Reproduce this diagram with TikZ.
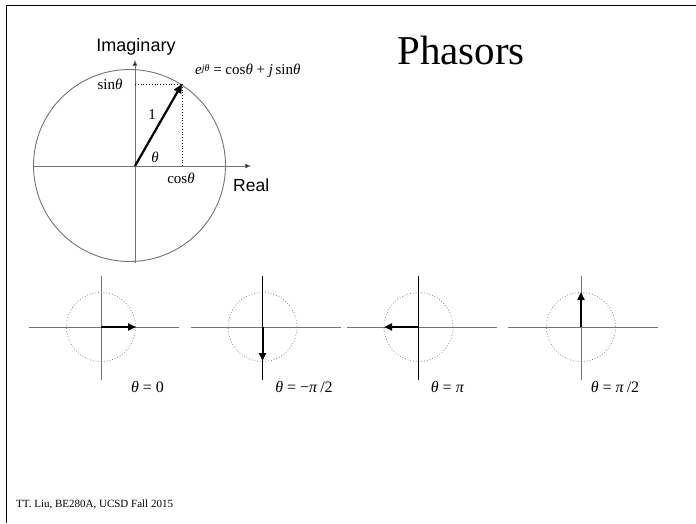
\documentclass[tikz,border=0pt]{standalone}
\usepackage{fontspec}
\setmainfont{Liberation Serif}
\setsansfont{Liberation Sans}
\usetikzlibrary{arrows.meta}
\definecolor{axgray}{gray}{0.45}
\definecolor{dotgray}{gray}{0.55}
\tikzset{
  axisline/.style={draw=axgray, line width=0.9pt},
  bigphasor/.style={draw=black, line width=2.2pt, -{Triangle[length=9pt,width=8pt]}},
  smallphasor/.style={draw=black, line width=2pt, -{Triangle[length=8pt,width=7pt]}},
  axarrow/.style={-{Triangle[length=6pt,width=4.5pt,fill=black]}},
  projline/.style={draw=black, line width=0.8pt, dotted},
  dotcircle/.style={draw=dotgray, line width=0.8pt, dotted},
  mathlbl/.style={font=\fontsize{15}{17}\selectfont, inner sep=0pt},
  biglbl/.style={font=\fontsize{16}{18}\selectfont, inner sep=0pt},
  sanslbl/.style={font=\sffamily\fontsize{18}{20}\selectfont, inner sep=0pt},
}
\begin{document}
\begin{tikzpicture}[x=1pt,y=-1pt]
\useasboundingbox (0,0) rectangle (696,523);
% frame lines
\draw[line width=1.6pt] (6.5,523) -- (6.5,5.5) -- (696,5.5);
% title
\node[font=\fontsize{41}{45}\selectfont, inner sep=0pt] (title) at (461,50) {Phasors};
% main diagram
\coordinate (O) at (135,166);
\coordinate (P) at (182,84);
\coordinate (C) at (129.5,165.5);
\draw[axisline] (C) circle[radius=96];
\coordinate (xl) at (34,166);
\coordinate (xr) at (251,166);
\coordinate (yb) at (135,263);
\coordinate (yt) at (135,60);
\draw[axisline, axarrow] (xl) -- (xr);
\draw[axisline, axarrow] (yb) -- (yt);
\coordinate (Px) at (182,166);
\coordinate (Py) at (135,84);
\draw[projline] (Py) -- (P);
\draw[projline] (P) -- (Px);
\draw[bigphasor] (O) -- (P);
\node[sanslbl] (imag) at (136,47) {Imaginary};
\node[sanslbl, font=\sffamily\fontsize{17.5}{20}\selectfont, anchor=west] (real) at (233,185) {Real};
\node[mathlbl] (sin) at (110,84) {sin\textit{θ}};
\node[mathlbl] (cos) at (181,178) {cos\textit{θ}};
\node[mathlbl] (one) at (152,115) {1};
\node[mathlbl] (th) at (155,157) {\textit{θ}};
\node[mathlbl, anchor=west] (eq) at (195,71) {\textit{e}\raisebox{0.55ex}{\fontsize{10}{11}\selectfont\textit{jθ}} = cos\textit{θ} + \textit{j}\,sin\textit{θ}};
% small phasor diagrams
\foreach \n/\cx/\hl/\hr/\vc/\tx/\ty/\lx/\txt in {
  1/101/29/179/axgray/136/327/147.5/{\textit{θ} = 0},
  2/262.5/191/341/black/262.5/361/304/{\textit{θ} = −\textit{π}\,/2},
  3/418.5/347/497/black/384/327/447.5/{\textit{θ} = \textit{π}},
  4/581/508/658/axgray/581/292/615/{\textit{θ} = \textit{π}\,/2}}{
  \coordinate (c\n) at (\cx,327);
  \coordinate (hl\n) at (\hl,327);
  \coordinate (hr\n) at (\hr,327);
  \coordinate (vt\n) at (\cx,276);
  \coordinate (vb\n) at (\cx,380);
  \coordinate (tip\n) at (\tx,\ty);
  \draw[dotcircle] (c\n) circle[radius=34.5];
  \draw[axisline] (hl\n) -- (hr\n);
  \draw[draw=\vc, line width=0.9pt] (vt\n) -- (vb\n);
  \draw[smallphasor] (c\n) -- (tip\n);
  \node[biglbl] (lab\n) at (\lx,387) {\txt};
}
% footer
\node[font=\fontsize{11}{13}\selectfont, anchor=west, inner sep=0pt] (foot) at (16,505) {TT. Liu, BE280A, UCSD Fall 2015};
\end{tikzpicture}
\end{document}
